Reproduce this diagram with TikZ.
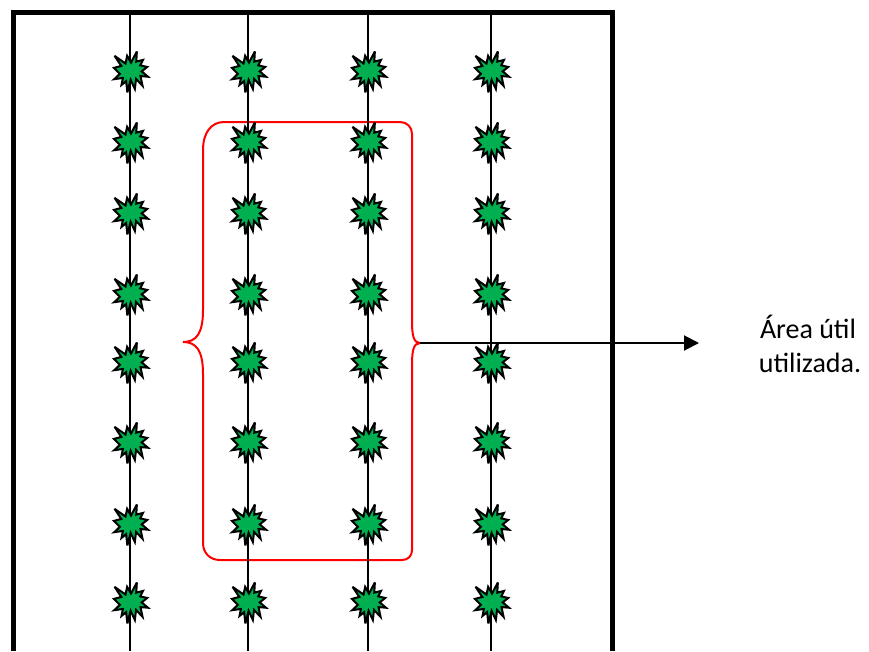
\documentclass[tikz,border=0pt]{standalone}
\usepackage{fontspec}
\setmainfont{Carlito}
\usetikzlibrary{arrows.meta}
\definecolor{plantgreen}{RGB}{0,176,80}
\tikzset{
  sealstyle/.style={fill=plantgreen, draw=black, line width=2pt, line join=miter, miter limit=4},
  seal/.pic={
    \draw[sealstyle, xscale=0.15741, yscale=0.18981, shift={(-101.65,-108)}]
      (108,58) -- (145.22,0) -- (141.55,53.25) -- (183.80,44.57) -- (167.02,73.15)
      -- (210.97,81.37) -- (176.07,104.75) -- (216,132.90) -- (168.37,129.42)
      -- (181.45,180.95) -- (140.20,144.57) -- (132.47,197.37) -- (105.32,149.35)
      -- (84.85,216) -- (77.15,156.27) -- (47.62,176.17) -- (56.67,139.37)
      -- (1.35,145.87) -- (37.22,117.75) -- (0,86.15) -- (46.27,76.17)
      -- (3.70,22.95) -- (73.12,63.20) -- (83.52,22.95) -- cycle;
  },
  frameline/.style={line width=5pt, draw=black, line join=miter},
  rowline/.style={line width=2pt, draw=black},
  bracestyle/.style={line width=2pt, draw=red},
  arrowline/.style={line width=2pt, draw=black, -{Triangle[length=15pt, width=15pt]}},
  lbl/.style={font=\fontsize{28}{34}\selectfont, anchor=base, inner sep=0pt}
}
\begin{document}
\begin{tikzpicture}[x=1pt, y=-1pt]
\useasboundingbox (0,0) rectangle (869,651);
\fill[white] (0,0) rectangle (869,651);
% field frame (open at the bottom edge of the picture)
\draw[frameline] (13,651) -- (13,12) -- (612,12) -- (612,651);
% useful area: double brace
\draw[bracestyle]
  (224,122) -- (400,122)
  .. controls (407,122) and (412,127) .. (412,134)
  -- (412,322)
  .. controls (412,336) and (414,343) .. (420,343)
  .. controls (414,343) and (412,350) .. (412,364)
  -- (412,550)
  .. controls (412,556) and (408,560) .. (402,560)
  -- (220,560)
  .. controls (210,560) and (203,553) .. (203,543)
  -- (203,374)
  .. controls (203,350) and (196,342) .. (183,342)
  .. controls (196,342) and (203,334) .. (203,310)
  -- (203,150)
  .. controls (203,133) and (211,122) .. (224,122) -- cycle;
\coordinate (bracetip) at (420,343);
% planting rows
\foreach \x in {130,248,368,491} {
  \coordinate (top\x) at (\x,12);
  \coordinate (bot\x) at (\x,651);
  \draw[rowline] (top\x) -- (bot\x);
}
% plants
\foreach \x in {130,248,368,491} {
  \foreach \y in {72,143,214,295,363,443,525,603} {
    \pic at (\x,\y) {seal};
  }
}
% label and arrow
\node[lbl] (lbl1) at (808,338) {Área útil};
\node[lbl] (lbl2) at (810,372) {utilizada.};
\coordinate (arrowend) at (699,343);
\draw[arrowline] (bracetip) -- (arrowend);
\end{tikzpicture}
\end{document}
